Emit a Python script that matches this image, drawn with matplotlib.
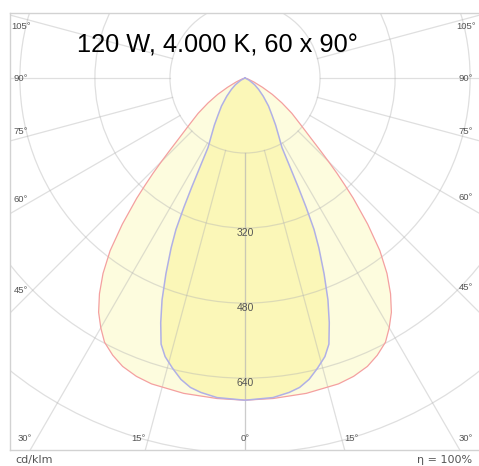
import numpy as np
import matplotlib
matplotlib.use("Agg")
import matplotlib.pyplot as plt
from matplotlib.patches import Circle

# ---------------- data ----------------
# outer curve (wide plane), angle from nadir in degrees, intensity cd/klm
outer_theta = [0, 5, 11, 17, 20, 23, 25.5, 28, 30, 32, 34, 36, 38, 40, 42,
               43, 44, 45, 46, 47.5, 49, 50, 53, 56, 59, 62, 66, 72, 80]
outer_r = [687, 686, 685, 682, 677, 668, 655, 638, 615, 589, 555, 515, 467,
           407, 345, 312, 282, 252, 225, 192, 168, 155, 125, 95, 68, 42, 20, 6, 0]
# inner curve (narrow plane)
inner_theta = [0, 5, 8, 10, 12, 14, 16, 17.5, 19, 20.5, 22, 23.5, 24.5, 25.3,
               26, 27, 28, 30, 33, 36, 40, 45, 50, 55, 62, 72]
inner_r = [687, 684, 677, 670, 657, 638, 618, 595, 552, 505, 450, 395, 355,
           305, 260, 205, 168, 145, 120, 98, 78, 55, 38, 25, 10, 0]

ring_values = [160, 320, 480, 640, 800]
ring_labels = ["320", "480", "640"]
angle_ticks = [0, 15, 30, 45, 60, 75, 90, 105]
title_text = "120 W, 4.000 K, 60 x 90°"
unit_text = "cd/klm"
eff_text = "η = 100%"

# ---------------- layout ----------------
W, H = 479, 466
fig = plt.figure(figsize=(W / 100, H / 100), dpi=100)
s = 0.469            # px per cd/klm
cx, cy = 245, 78     # centre in pixels (from top-left)
fl, ft, fb, fr = 10, 13, 450, 481   # frame pixels
ax = fig.add_axes([fl / W, (H - fb) / H, (fr - fl) / W, (fb - ft) / H])
ax.set_xlim((fl - cx) / s, (fr - cx) / s)
ax.set_ylim(-(fb - cy) / s, (cy - ft) / s)
ax.set_xticks([]); ax.set_yticks([])
for side in ["left", "top", "bottom"]:
    ax.spines[side].set_color("#d2d2d2")
    ax.spines[side].set_linewidth(1.0)
ax.spines["right"].set_visible(False)


def curve_xy(theta, r):
    th = np.radians(np.asarray(theta, float))
    rr = np.asarray(r, float)
    xl = -rr[::-1] * np.sin(th[::-1]); yl = -rr[::-1] * np.cos(th[::-1])
    xr = rr[1:] * np.sin(th[1:]); yr = -rr[1:] * np.cos(th[1:])
    return np.concatenate([xl, xr]), np.concatenate([yl, yr])


ox, oy = curve_xy(outer_theta, outer_r)
ix, iy = curve_xy(inner_theta, inner_r)

ax.fill(ox, oy, color=(253 / 255, 251 / 255, 211 / 255), alpha=0.75, lw=0, zorder=1)
ax.fill(ix, iy, color=(250 / 255, 245 / 255, 160 / 255), alpha=0.6, lw=0, zorder=1.1)

# grid
grid_col = (0.70, 0.70, 0.70)
for rv in ring_values:
    ax.add_patch(Circle((0, 0), rv, fill=False, ec=grid_col, lw=0.9,
                        alpha=0.42, zorder=2))
for a in angle_ticks:
    for sd in (-1, 1):
        t = np.radians(a)
        rr = np.array([ring_values[0], 2000])
        ax.plot(sd * rr * np.sin(t), -rr * np.cos(t), color=grid_col, lw=0.9,
                alpha=0.42, zorder=2)

# outlines
ax.plot(ox, oy, color="#f4a0a0", lw=0.9, zorder=3)
ax.plot(ix, iy, color="#b0b0e6", lw=1.1, zorder=3.1)

# ring labels
for lab in ring_labels:
    ax.text(0, -float(lab) - 10, lab, ha="center", va="center", fontsize=7.5,
            color="#555555", family="Liberation Sans", zorder=4)

# angle labels
x0, x1 = ax.get_xlim(); y0, _ = ax.get_ylim()
inset_l = 11 / s; inset_r = 15 / s; inset_b = 12 / s
for a in angle_ticks:
    sides = (0,) if a == 0 else (-1, 1)
    if a == 0 or a == 90:
        phi = a
    elif a < 90:
        phi = a + 1.5
    else:
        phi = a - 2
    for sd in sides:
        t = np.radians(phi)
        dx = sd * np.sin(t) if sd else 0.0
        dy = -np.cos(t)
        cands = []
        if dx < 0:
            cands.append((x0 + inset_l) / dx)
        if dx > 0:
            cands.append((x1 - inset_r) / dx)
        if dy < -1e-9:
            cands.append((y0 + inset_b) / dy)
        tt = min(cands)
        ax.text(dx * tt, dy * tt, f"{a}°", ha="center", va="center",
                fontsize=6.8, color="#555555", family="Liberation Sans", zorder=4)

fig.text(217.5 / W, 1 - 52 / H, title_text, ha="center", va="baseline",
         fontsize=18.3, family="Liberation Sans", color="black")
fig.text(15 / W, 1 - 460 / H, unit_text, ha="left", va="center",
         fontsize=8, family="DejaVu Sans", color="#555555")
fig.text(472 / W, 1 - 460 / H, eff_text, ha="right", va="center",
         fontsize=8, family="DejaVu Sans", color="#555555")

fig.savefig("out.png", dpi=100)
